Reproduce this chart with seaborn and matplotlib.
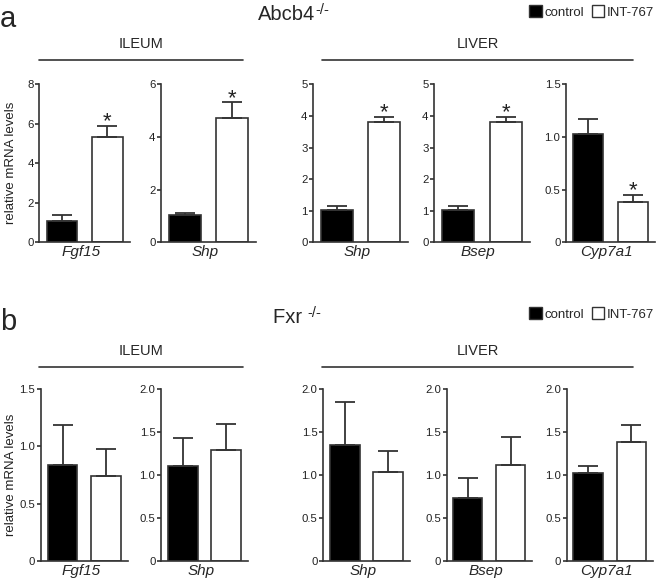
import matplotlib
matplotlib.use("Agg")
import matplotlib.pyplot as plt
import pandas as pd
import seaborn as sns
from matplotlib.lines import Line2D
from matplotlib.patches import Patch

groups = ["control", "INT-767"]
genes = ["Fgf15", "Shp", "Shp", "Bsep", "Cyp7a1"]
tissues = ["ILEUM", "LIVER"]

# panel a: Abcb4-/- mice
abcb4_control = [1.08, 1.03, 1.03, 1.03, 1.03]
abcb4_control_sem = [0.28, 0.09, 0.12, 0.12, 0.14]
abcb4_int767 = [5.32, 4.72, 3.82, 3.82, 0.38]
abcb4_int767_sem = [0.58, 0.60, 0.16, 0.16, 0.07]
abcb4_signif = [True, True, True, True, True]
abcb4_yticks = [[0, 2, 4, 6, 8], [0, 2, 4, 6], [0, 1, 2, 3, 4, 5],
                [0, 1, 2, 3, 4, 5], [0, 0.5, 1.0, 1.5]]

# panel b: Fxr-/- mice
fxr_control = [0.84, 1.10, 1.35, 0.73, 1.02]
fxr_control_sem = [0.35, 0.33, 0.50, 0.23, 0.09]
fxr_int767 = [0.74, 1.29, 1.03, 1.12, 1.39]
fxr_int767_sem = [0.24, 0.30, 0.25, 0.32, 0.19]
fxr_signif = [False, False, False, False, False]
fxr_yticks = [[0, 0.5, 1.0, 1.5], [0, 0.5, 1.0, 1.5, 2.0], [0, 0.5, 1.0, 1.5, 2.0],
              [0, 0.5, 1.0, 1.5, 2.0], [0, 0.5, 1.0, 1.5, 2.0]]

W, H = 660, 582
EDGE = "#333333"
PALETTE = {"control": "black", "INT-767": "white"}

sns.set_theme(style="ticks")
plt.rcParams["font.family"] = ["Liberation Sans", "DejaVu Sans"]

fig = plt.figure(figsize=(W / 100, H / 100), dpi=100)
renderer = fig.canvas.get_renderer()


def fx(x):
    return x / W


def fy(y):
    return 1 - y / H


def tick_label(v, ticks):
    if v == 0:
        return "0"
    if all(float(t).is_integer() for t in ticks):
        return "%d" % v
    return "%.1f" % v


def draw_row(spans, y_top, y_bot, ctrl, ctrl_sem, trt, trt_sem, yticks, signif):
    axes = []
    for i, (x0, x1) in enumerate(spans):
        ax = fig.add_axes([fx(x0), fy(y_bot), (x1 - x0) / W, (y_bot - y_top) / H])
        df = pd.DataFrame({"group": groups, "value": [ctrl[i], trt[i]]})
        sns.barplot(data=df, x="group", y="value", hue="group", order=groups,
                    palette=PALETTE, edgecolor=EDGE, linewidth=1.2, width=0.68,
                    errorbar=None, legend=False, ax=ax)
        ax.errorbar([0, 1], [ctrl[i], trt[i]], yerr=[[0, 0], [ctrl_sem[i], trt_sem[i]]],
                    fmt="none", ecolor=EDGE, elinewidth=1.3, capsize=7, capthick=1.3,
                    zorder=1)
        if signif[i]:
            ax.annotate("*", xy=(1, trt[i] + trt_sem[i]), xytext=(0, -1.2),
                        textcoords="offset points", ha="center", va="baseline",
                        fontsize=16, color="#222222")
        ax.set_xlim(-0.5, 1.5)
        ax.set_ylim(0, yticks[i][-1])
        ax.set_xticks([])
        ax.set_yticks(yticks[i])
        ax.set_yticklabels([tick_label(t, yticks[i]) for t in yticks[i]])
        ax.set_ylabel("")
        ax.set_xlabel(genes[i], style="italic", fontsize=11, labelpad=0)
        ax.xaxis.set_label_coords(0.46, -0.02)
        ax.xaxis.label.set_va("top")
        sns.despine(ax=ax)
        for side in ["left", "bottom"]:
            ax.spines[side].set_color(EDGE)
            ax.spines[side].set_linewidth(1.2)
        ax.tick_params(axis="y", length=3, width=1.2, color=EDGE, labelsize=8.2,
                       pad=1, labelcolor="#222222")
        axes.append(ax)
    axes[0].set_ylabel("relative mRNA levels", fontsize=9.5, color="#222222")
    axes[0].yaxis.set_label_coords((17 - spans[0][0]) / (spans[0][1] - spans[0][0]), 0.5)
    return axes


def draw_header(letter, title, sup, y_letter, y_title, x_title, y_group, y_line, y_legend):
    fig.text(0, fy(y_letter), letter, fontsize=21, ha="left", va="baseline")
    t = fig.text(fx(x_title), fy(y_title), title, fontsize=14.5, ha="left", va="baseline")
    x_end = t.get_window_extent(renderer).x1
    fig.text(x_end / W, fy(y_title - 6), sup, fontsize=10.5, ha="left", va="baseline")
    for name, (x0, x1) in zip(tissues, [(39, 243), (322, 633)]):
        fig.text(fx((x0 + x1) / 2), fy(y_group), name, fontsize=10.5,
                 ha="center", va="baseline")
        fig.add_artist(Line2D([fx(x0), fx(x1)], [fy(y_line), fy(y_line)],
                              transform=fig.transFigure, color=EDGE, lw=1.2))
    handles = [Patch(facecolor=PALETTE[g], edgecolor=EDGE, linewidth=1) for g in groups]
    fig.legend(handles=handles, labels=groups, ncol=2, frameon=False,
               loc="center left", bbox_to_anchor=(fx(529), fy(y_legend)),
               handlelength=0.95, handleheight=0.95, handletextpad=0.2,
               columnspacing=0.6, fontsize=9.5, borderpad=0, borderaxespad=0)


draw_header("a", "Abcb4", "-/-", 27, 20, 258, 48, 60, 12)
draw_row([(39.3, 130), (161, 256), (313, 408), (434, 530), (566, 655)], 84.3, 242.3,
         abcb4_control, abcb4_control_sem, abcb4_int767, abcb4_int767_sem,
         abcb4_yticks, abcb4_signif)

draw_header("b", "Fxr ", "-/-", 330, 323, 273, 355, 367, 314)
draw_row([(40.7, 128), (161, 248), (323, 410), (446.5, 532), (566.5, 653)], 389.3, 560.7,
         fxr_control, fxr_control_sem, fxr_int767, fxr_int767_sem,
         fxr_yticks, fxr_signif)

fig.savefig("out.png", dpi=100, facecolor="white")
